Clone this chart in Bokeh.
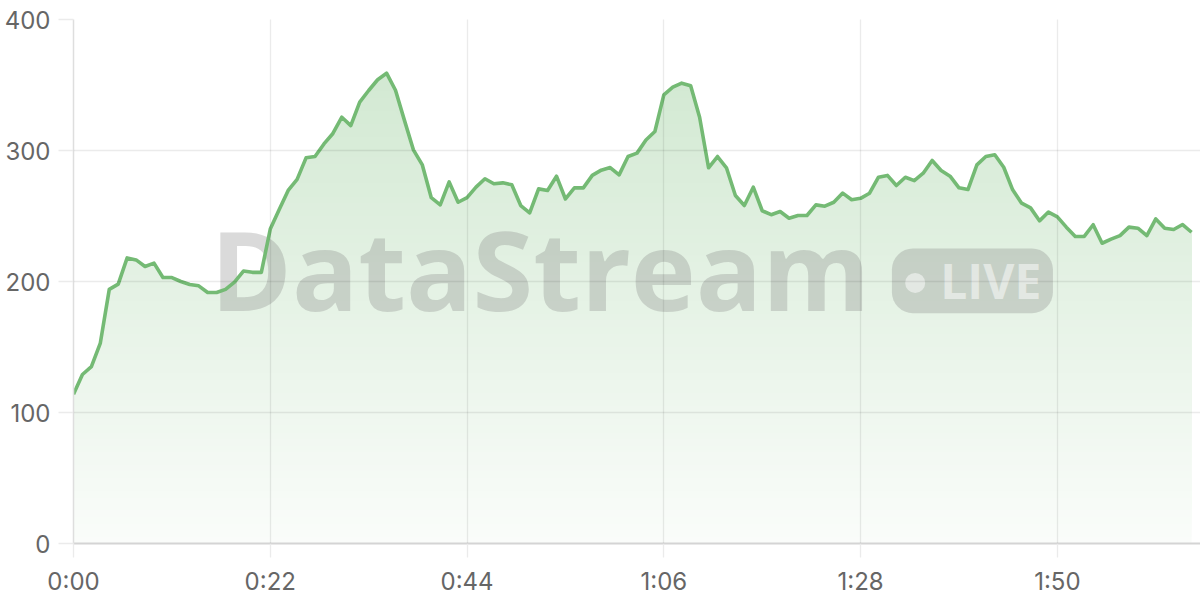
import numpy as np
from bokeh.plotting import figure
from bokeh.models import Range1d, FixedTicker, CustomJSTickFormatter
from bokeh.core.properties import value
from bokeh.embed import file_html
from bokeh.resources import INLINE

# ---- data (seconds elapsed, value) ----
seconds = list(range(126))
values = [
    114, 129, 135, 153, 194, 198, 218, 216.5, 211.5, 214,
    203, 203, 200, 197.7, 196.7, 191.6, 191.6, 194, 199.5, 208,
    207, 207, 240, 255, 269.5, 278, 294.4, 295.4, 305, 313,
    325.4, 319, 337, 345.8, 354, 359, 346, 323, 300.5, 289,
    264, 258.5, 276, 260.5, 264, 272, 278.4, 274.6, 275.3, 273.8,
    258, 252.4, 270.7, 269.5, 280.4, 263, 271.5, 271.5, 281, 285,
    287, 281.4, 295.4, 298, 308, 314.5, 342.5, 348.3, 351.4, 349.4,
    325.4, 286.8, 295.4, 286.8, 265.6, 258, 272, 254, 251, 253.4,
    248.3, 250.4, 250.4, 258.5, 257.5, 260.5, 267.5, 262.4, 263.5, 267.4,
    279.6, 281, 273.3, 279.6, 277, 282.7, 292.4, 284.7, 280.4, 271.5,
    270.2, 289, 295.4, 296.7, 287.2, 270, 259.8, 256.2, 246.3, 253,
    249.3, 241.5, 234.4, 234.4, 243.3, 229.2, 232.3, 235, 241.5, 240.7,
    235, 247.8, 240.7, 239.7, 243.5, 237.6,
]
x_tick_values = [0, 22, 44, 66, 88, 110]
y_tick_values = [0, 100, 200, 300, 400]
watermark_title = "DataStream"
watermark_badge = "LIVE"

LINE_RGB = (116, 186, 116)
LINE = "#%02x%02x%02x" % LINE_RGB
TICK_FONT = "Inter"

p = figure(width=1200, height=600, output_backend="svg", toolbar_location=None,
           x_range=Range1d(0, 126), y_range=Range1d(0, 400),
           min_border_left=73, min_border_right=0, min_border_top=19, min_border_bottom=57,
           background_fill_color="white", border_fill_color="white")
p.outline_line_color = None

# ---- gradient area: opaque layers, each from its level up to the data ----
x = np.array(seconds, dtype=float)
y = np.array(values, dtype=float)
step = 5
levels = np.arange(0, 400, step)

def target_alpha(v):
    return 0.035 + 0.32 * v / 400.0

def blend(a):
    r, g, b = (round(255 * (1 - a) + c * a) for c in LINE_RGB)
    return "#%02x%02x%02x" % (r, g, b)

for lo in levels:
    p.varea(x=x, y1=np.minimum(y, lo), y2=y,
            fill_color=blend(target_alpha(lo + step / 2)), fill_alpha=1.0)

# ---- watermark ----
WM_ALPHA = 0.29
p.quad(left=[91.5], right=[109.5], top=[225.2], bottom=[175.8],
       fill_color="#808080", fill_alpha=WM_ALPHA, line_color=None, border_radius=21)
p.text(x=[52.2], y=[210], text=[watermark_title], text_font=value("Open Sans"),
       text_font_style="bold", text_font_size="110px", text_color="#808080",
       text_alpha=WM_ALPHA, text_align="center", text_baseline="alphabetic")
p.scatter(x=[94.1], y=[198.9], size=20, marker="circle", fill_color="white",
          fill_alpha=0.5, line_color=None)
p.text(x=[96.9], y=[200.8], text=[watermark_badge], text_font=value("Open Sans"),
       text_font_style="bold", text_font_size="48px", text_color="white",
       text_alpha=0.5, text_align="left", text_baseline="alphabetic")

# ---- line ----
p.line(x=x, y=y, line_color=LINE, line_width=3.6, line_join="round")

# ---- axes / grid ----
p.xaxis.ticker = FixedTicker(ticks=x_tick_values)
p.yaxis.ticker = FixedTicker(ticks=y_tick_values)
p.xgrid.ticker = FixedTicker(ticks=x_tick_values)
p.ygrid.ticker = FixedTicker(ticks=y_tick_values)
p.xaxis.formatter = CustomJSTickFormatter(code="""
const m = Math.floor(tick / 60);
const s = Math.round(tick % 60);
return m + ':' + (s < 10 ? '0' : '') + s;
""")
for g in (p.xgrid, p.ygrid):
    g.grid_line_color = "black"
    g.grid_line_alpha = 0.08
    g.grid_line_width = 1.3
    g.level = "overlay"

for ax in (p.xaxis, p.yaxis):
    ax.minor_tick_line_color = None
    ax.major_tick_in = 0
    ax.major_tick_line_color = "#ebebeb"
    ax.major_tick_line_width = 1.3
    ax.major_label_text_font = TICK_FONT
    ax.major_label_text_font_size = "24px"
    ax.major_label_text_color = "#666666"

p.xaxis.major_tick_out = 14
p.xaxis.major_label_standoff = 9
p.xaxis.axis_line_color = "#d4d4d4"
p.xaxis.axis_line_width = 2
p.yaxis.major_tick_out = 15
p.yaxis.major_label_standoff = 8
p.yaxis.axis_line_color = "#dedede"
p.yaxis.axis_line_width = 1.5

open("out.html", "w").write(file_html(p, INLINE))
